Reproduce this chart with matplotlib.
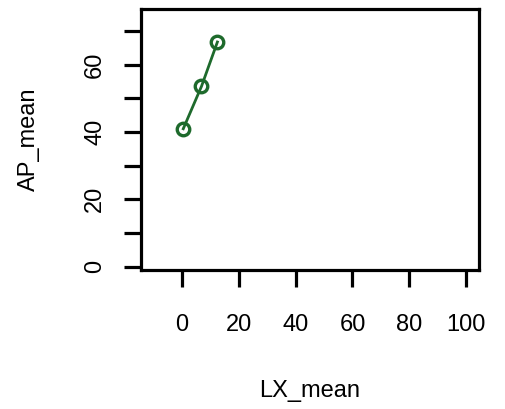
import numpy as np
import matplotlib.pyplot as plt

plt.rcParams['font.family'] = ['Liberation Sans', 'DejaVu Sans']

lx_mean = np.array([0.5, 6.9, 12.5])
ap_mean = np.array([41.0, 53.6, 66.8])

x_ticks = [0, 20, 40, 60, 80, 100]
y_ticks = [0, 10, 20, 30, 40, 50, 60, 70]
y_labels = ['0', '', '20', '', '40', '', '60', '']

green = '#1e6a2c'

fig = plt.figure(figsize=(5.05, 4.09), dpi=100)
ax = fig.add_axes([0.279, 0.34, 0.669, 0.637])

ax.plot(lx_mean, ap_mean, '-', color=green, lw=2.0, zorder=2)
ax.plot(lx_mean, ap_mean, 'o', mfc='none', mec=green, mew=2.4, ms=9, zorder=3)

ax.set_xlim(-14.4, 104.4)
ax.set_ylim(-1.0, 76.5)

ax.set_xticks(x_ticks)
ax.set_xticklabels([str(v) for v in x_ticks])
ax.set_yticks(y_ticks)
ax.set_yticklabels(y_labels, rotation=90, va='center')

for s in ax.spines.values():
    s.set_linewidth(2.3)
ax.tick_params(axis='both', length=12.5, width=2.3, labelsize=17, color='black')
ax.tick_params(axis='x', pad=19)
ax.tick_params(axis='y', pad=12.5)

ax.set_xlabel('LX_mean', fontsize=17)
ax.set_ylabel('AP_mean', fontsize=17)
ax.xaxis.set_label_coords(0.5, -0.465)
ax.yaxis.set_label_coords(-0.33, 0.5)
ax.xaxis.label.set_va('center')
ax.yaxis.label.set_va('center')

fig.savefig('out.png', dpi=100)
